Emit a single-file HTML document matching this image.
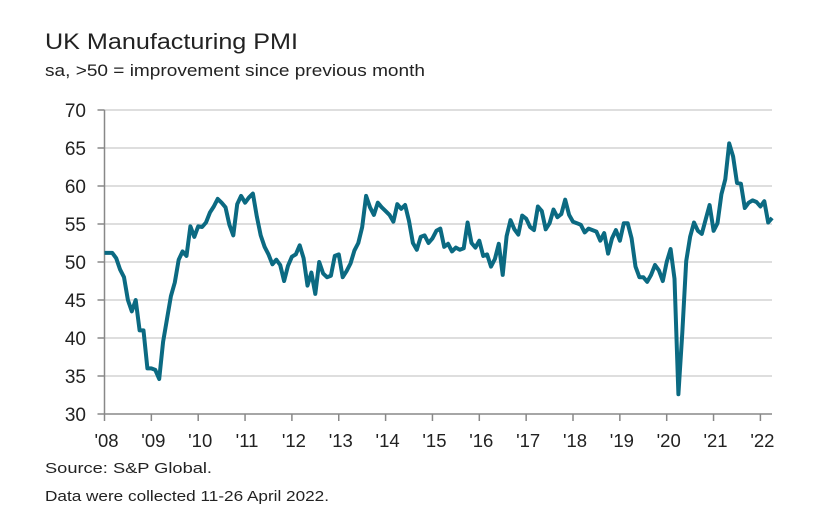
<!DOCTYPE html>
<html><head><meta charset="utf-8"><style>
body{margin:0;background:#fff;}
svg{display:block;font-family:"Liberation Sans",sans-serif;}
</style></head><body>
<svg id="chart" width="829" height="522">
<text x="45" y="49" font-size="22.5" fill="#222" textLength="253" lengthAdjust="spacingAndGlyphs">UK Manufacturing PMI</text>
<text x="45" y="76" font-size="17" fill="#222" textLength="380" lengthAdjust="spacingAndGlyphs">sa, &gt;50 = improvement since previous month</text>
<g id="grid"></g>
<g id="yaxis"></g>
<g id="xaxis"></g>
<g id="series"></g>
<text x="45" y="473" font-size="15" fill="#222" textLength="167" lengthAdjust="spacingAndGlyphs">Source: S&amp;P Global.</text>
<text x="45" y="501" font-size="15" fill="#222" textLength="284" lengthAdjust="spacingAndGlyphs">Data were collected 11-26 April 2022.</text>
</svg>
<script>
const yTicks=[30,35,40,45,50,55,60,65,70];
const xLabels=["'08","'09","'10","'11","'12","'13","'14","'15","'16","'17","'18","'19","'20","'21","'22"];
const startYear=2008;
const pmi=[
51.2,51.2,51.2,50.5,49,48,45,43.5,45,41,41,36,
36,35.8,34.6,39.5,42.5,45.5,47.3,50.3,51.4,50.8,54.7,53.3,
54.7,54.6,55.2,56.5,57.3,58.3,57.8,57.2,54.9,53.5,57.6,58.7,
57.8,58.5,59,56,53.5,52,51,49.7,50.3,49.6,47.5,49.5,
50.7,51,52.2,50.5,46.9,48.6,45.8,50,48.5,48,48.2,50.8,
51,48,48.8,49.8,51.5,52.5,54.6,58.7,57.2,56.2,57.8,57.2,
56.7,56.2,55.3,57.6,57,57.5,55.4,52.5,51.6,53.3,53.5,52.5,
53.1,54.1,54.4,52,52.4,51.4,51.9,51.6,51.8,55.2,52.5,51.9,
52.8,50.8,51,49.4,50.4,52.4,48.3,53.4,55.5,54.3,53.6,56.1,
55.7,54.6,54.2,57.3,56.7,54.3,55.1,56.9,55.9,56.3,58.2,56.2,
55.3,55.1,54.9,53.9,54.4,54.2,54,52.8,53.8,51.1,53.1,54.2,
52.8,55.1,55.1,53.1,49.4,48,48,47.4,48.3,49.6,48.9,47.5,
50,51.7,47.8,32.6,40.7,50.1,53.3,55.2,54.1,53.7,55.6,57.5,
54.1,55.1,58.9,60.9,65.6,63.9,60.4,60.3,57.1,57.8,58.1,57.9,
57.3,58,55.2,55.8];
const NS="http://www.w3.org/2000/svg";
const x0=104.5,x1=772,yTop=110,yBot=414,pxYear=46.85;
function sy(v){return yBot-(v-30)/40*(yBot-yTop);}
function sx(i){return x0+i/12*pxYear;}
function mk(t,a,p){const e=document.createElementNS(NS,t);for(const k in a)e.setAttribute(k,a[k]);p.appendChild(e);return e;}
const grid=document.getElementById('grid'),ya=document.getElementById('yaxis'),xa=document.getElementById('xaxis'),se=document.getElementById('series');
yTicks.forEach(v=>{
 if(v>30){const g=mk('line',{x1:x0,x2:x1,y1:sy(v),y2:sy(v),stroke:'#d4d4d4','stroke-width':1.5},grid);
 
 }
 const tk=mk('line',{x1:x0-7,x2:x0,y1:sy(v),y2:sy(v),stroke:'#888','stroke-width':1.5},ya);
 
 
 const t=mk('text',{x:86,y:sy(v)+7,'font-size':19,fill:'#222','text-anchor':'end'},ya);
 t.textContent=v;
 
 
});
mk('line',{x1:x0,x2:x0,y1:yTop,y2:yBot,stroke:'#888','stroke-width':1.5},ya);
mk('line',{x1:x0,x2:x1,y1:yBot,y2:yBot,stroke:'#888','stroke-width':1.5},xa);
xLabels.forEach((l,i)=>{
 const x=sx(i*12);
 const tk=mk('line',{x1:x,x2:x,y1:yBot,y2:yBot+7,stroke:'#888','stroke-width':1.5},xa);
 
 
 const t=mk('text',{x:x+2,y:447,'font-size':18.5,fill:'#222','text-anchor':'middle'},xa);
 t.textContent=l;
 
 
});
const d=pmi.map((v,i)=>(i?'L':'M')+sx(i).toFixed(1)+','+sy(v).toFixed(1)).join('');
const p=mk('path',{d:d,fill:'none',stroke:'#0b6a82','stroke-width':4,'stroke-linejoin':'round'},se);


</script>
</body></html>
